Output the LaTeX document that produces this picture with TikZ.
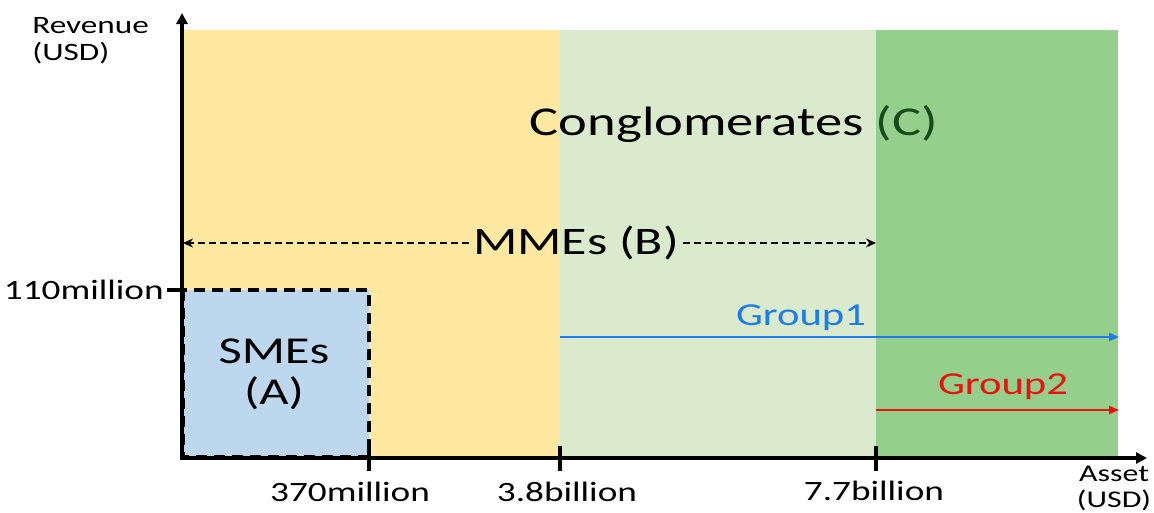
\documentclass[tikz,border=0pt]{standalone}
\usepackage{fontspec}
\setmainfont{Carlito}
\usetikzlibrary{arrows.meta}
\definecolor{cyel}{HTML}{FFE8A0}
\definecolor{clgreen}{HTML}{DAEBCD}
\definecolor{cdgreen}{HTML}{94CF8C}
\definecolor{cblue}{HTML}{BDD7EE}
\definecolor{cgrpone}{HTML}{1A7CF0}
\definecolor{cgrptwo}{HTML}{F01010}
\definecolor{cctext}{HTML}{1A4A1A}
\tikzset{
  lbl/.style={inner sep=0pt, transform shape, xscale=1.33},
  axisline/.style={line width=3.4pt, -{Triangle[length=11pt,width=11pt]}},
  tickline/.style={line width=3.4pt},
  mmearrow/.style={line width=2.6pt, dash pattern=on 7pt off 4pt, -{Stealth[length=10pt,width=9pt]}},
  smebox/.style={fill=cblue, line width=3.2pt, dash pattern=on 11pt off 7pt},
  grparrow/.style={line width=2.8pt, -{Triangle[length=10pt,width=8pt]}},
}
\begin{document}
\begin{tikzpicture}[x=1pt,y=-1pt]
\useasboundingbox (0,0) rectangle (1154,512);
% regions
\fill[cyel] (183,30) rectangle (560,457);
\fill[clgreen] (560,30) rectangle (876,457);
\fill[cdgreen] (876,30) rectangle (1118,457);
% SMEs box
\draw[smebox] (183,290) rectangle (369,457);
\node[lbl, font=\fontsize{38}{41}\selectfont, align=center] (sme) at (274,374) {SMEs\\(A)};
% axes
\coordinate (O) at (182,458);
\coordinate (ytop) at (182,13);
\coordinate (xend) at (1147,458);
\draw[axisline] (182,459.7) -- (ytop);
\draw[axisline] (180.3,458) -- (xend);
% ticks
\coordinate (t1a) at (369,446); \coordinate (t1b) at (369,471);
\coordinate (t2a) at (560,446); \coordinate (t2b) at (560,471);
\coordinate (t3a) at (876,446); \coordinate (t3b) at (876,471);
\coordinate (tya) at (167,290); \coordinate (tyb) at (183,290);
\draw[tickline] (t1a) -- (t1b);
\draw[tickline] (t2a) -- (t2b);
\draw[tickline] (t3a) -- (t3b);
\draw[tickline] (tya) -- (tyb);
% tick labels
\node[lbl, font=\fontsize{28}{32}\selectfont] (l1) at (350,492) {370million};
\node[lbl, font=\fontsize{28}{32}\selectfont] (l2) at (567,492) {3.8billion};
\node[lbl, font=\fontsize{28}{32}\selectfont] (l3) at (874,491) {7.7billion};
\node[lbl, font=\fontsize{28}{32}\selectfont, anchor=east] (ly) at (164,290) {110million};
\node[lbl, font=\fontsize{25}{27}\selectfont, align=left, anchor=north west] (rev) at (32,17) {Revenue\\(USD)};
\node[lbl, font=\fontsize{24}{26}\selectfont, align=center, anchor=north] (ast) at (1114,466) {Asset\\(USD)};
% conglomerates
\node[lbl, font=\fontsize{41}{48}\selectfont] (cg) at (734,124) {Conglomerates \textcolor{cctext}{(C)}};
% MMEs
\node[lbl, font=\fontsize{39}{46}\selectfont, inner xsep=3pt] (mme) at (576,243) {MMEs (B)};
\coordinate (mmeL) at (183,243);
\coordinate (mmeR) at (876,243);
\draw[mmearrow] (mme.west) -- (mmeL);
\draw[mmearrow] (mme.east) -- (mmeR);
% groups
\coordinate (g1s) at (560,337); \coordinate (g1e) at (1119,337);
\coordinate (g2s) at (876,410); \coordinate (g2e) at (1119,410);
\draw[grparrow, cgrpone] (g1s) -- (g1e);
\draw[grparrow, cgrptwo] (g2s) -- (g2e);
\node[lbl, font=\fontsize{32}{36}\selectfont, text=cgrpone] (g1) at (801,318) {Group1};
\node[lbl, font=\fontsize{32}{36}\selectfont, text=cgrptwo] (g2) at (1003,387) {Group2};
\end{tikzpicture}
\end{document}
